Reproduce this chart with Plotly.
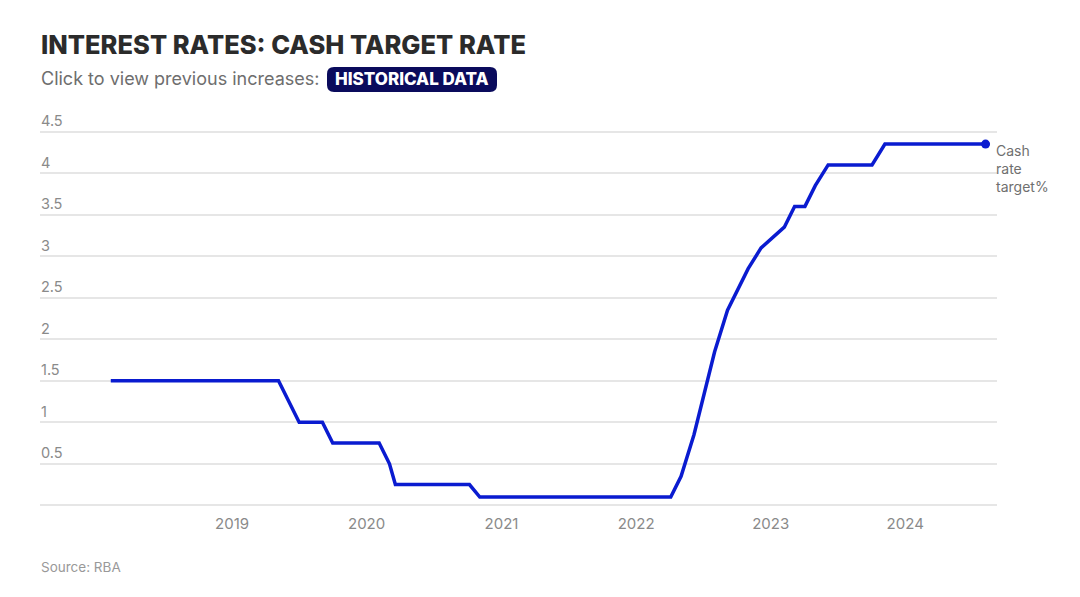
import plotly.graph_objects as go

# RBA cash rate target, by board meeting date
meeting_dates = [
    "2018-02-06", "2018-03-06", "2018-04-03", "2018-05-01", "2018-06-05", "2018-07-03",
    "2018-08-07", "2018-09-04", "2018-10-02", "2018-11-06", "2018-12-04",
    "2019-02-05", "2019-03-05", "2019-04-02", "2019-05-07", "2019-06-04", "2019-07-02",
    "2019-08-06", "2019-09-03", "2019-10-01", "2019-11-05", "2019-12-03",
    "2020-02-04", "2020-03-03", "2020-03-19", "2020-04-07", "2020-05-05", "2020-06-02",
    "2020-07-07", "2020-08-04", "2020-09-01", "2020-10-06", "2020-11-03", "2020-12-01",
    "2021-02-02", "2021-03-02", "2021-04-06", "2021-05-04", "2021-06-01", "2021-07-06",
    "2021-08-03", "2021-09-07", "2021-10-05", "2021-11-02", "2021-12-07",
    "2022-02-01", "2022-03-01", "2022-04-05", "2022-05-03", "2022-06-07", "2022-07-05",
    "2022-08-02", "2022-09-06", "2022-10-04", "2022-11-01", "2022-12-06",
    "2023-02-07", "2023-03-07", "2023-04-04", "2023-05-02", "2023-06-06", "2023-07-04",
    "2023-08-01", "2023-09-05", "2023-10-03", "2023-11-07", "2023-12-05",
    "2024-02-06", "2024-03-19", "2024-05-07", "2024-06-18", "2024-08-06",
]
cash_rate = [
    1.5, 1.5, 1.5, 1.5, 1.5, 1.5,
    1.5, 1.5, 1.5, 1.5, 1.5,
    1.5, 1.5, 1.5, 1.5, 1.25, 1.0,
    1.0, 1.0, 0.75, 0.75, 0.75,
    0.75, 0.5, 0.25, 0.25, 0.25, 0.25,
    0.25, 0.25, 0.25, 0.25, 0.1, 0.1,
    0.1, 0.1, 0.1, 0.1, 0.1, 0.1,
    0.1, 0.1, 0.1, 0.1, 0.1,
    0.1, 0.1, 0.1, 0.35, 0.85, 1.35,
    1.85, 2.35, 2.6, 2.85, 3.1,
    3.35, 3.6, 3.6, 3.85, 4.1, 4.1,
    4.1, 4.1, 4.1, 4.35, 4.35,
    4.35, 4.35, 4.35, 4.35, 4.35,
]

year_ticks = ["2019-01-01", "2020-01-01", "2021-01-01", "2022-01-01", "2023-01-01", "2024-01-01"]
year_labels = ["2019", "2020", "2021", "2022", "2023", "2024"]
y_ticks = [0, 0.5, 1, 1.5, 2, 2.5, 3, 3.5, 4, 4.5]
y_labels = ["", "0.5", "1", "1.5", "2", "2.5", "3", "3.5", "4", "4.5"]

LINE = "#0a1bd0"
NAVY = "#0a0b5c"
GRID = "#e6e6e6"
MUTED = "#8a8a8a"
FONT = "Inter"

W, H = 1080, 597
PLOT_L, PLOT_R, PLOT_T, PLOT_B = 40, 997, 130, 506.7


def px(x):
    return (x - PLOT_L) / (PLOT_R - PLOT_L)


def py(y):
    return (PLOT_B - y) / (PLOT_B - PLOT_T)


fig = go.Figure()
fig.add_trace(go.Scatter(
    x=meeting_dates, y=cash_rate,
    mode="lines", name="Cash rate target%",
    line=dict(color=LINE, width=3.5),
    hovertemplate="%{x|%d %b %Y}: %{y}%<extra></extra>",
))
fig.add_trace(go.Scatter(
    x=meeting_dates[-1:], y=cash_rate[-1:],
    mode="markers", showlegend=False, hoverinfo="skip",
    marker=dict(color=LINE, size=9),
))

# end-of-line label
fig.add_annotation(
    x=meeting_dates[-1], y=cash_rate[-1], xref="x", yref="y",
    text="Cash<br>rate<br>target%", showarrow=False,
    xanchor="left", yanchor="top", xshift=8, yshift=4, align="left",
    font=dict(family=FONT, size=14, color="#6f6f6f"),
)

# y labels sit above their gridlines, flush with the left edge
for v, lab in zip(y_ticks, y_labels):
    if lab:
        fig.add_annotation(
            x=0, y=v, xref="paper", yref="y", text=lab, showarrow=False,
            xanchor="left", yanchor="middle", yshift=11, xshift=-1,
            font=dict(family=FONT, size=14.5, color=MUTED),
        )

# title block
fig.add_annotation(
    x=px(39), y=py(45), xref="paper", yref="paper",
    text="INTEREST RATES: CASH TARGET RATE", showarrow=False,
    xanchor="left", yanchor="middle",
    font=dict(family=FONT, size=25.5, color="#2b2b2b", weight=800),
)
fig.add_annotation(
    x=px(39), y=py(79), xref="paper", yref="paper",
    text="Click to view previous increases:", showarrow=False,
    xanchor="left", yanchor="middle",
    font=dict(family=FONT, size=18, color="#6e6e6e"),
)

# rounded badge
bx0, bx1, by0, by1, r = 327, 497, 67, 92, 7
badge = (
    f"M {px(bx0 + r)},{py(by0)} L {px(bx1 - r)},{py(by0)} "
    f"Q {px(bx1)},{py(by0)} {px(bx1)},{py(by0 + r)} L {px(bx1)},{py(by1 - r)} "
    f"Q {px(bx1)},{py(by1)} {px(bx1 - r)},{py(by1)} L {px(bx0 + r)},{py(by1)} "
    f"Q {px(bx0)},{py(by1)} {px(bx0)},{py(by1 - r)} L {px(bx0)},{py(by0 + r)} "
    f"Q {px(bx0)},{py(by0)} {px(bx0 + r)},{py(by0)} Z"
)
fig.add_shape(type="path", path=badge, xref="paper", yref="paper",
              fillcolor=NAVY, line=dict(width=0), layer="above")
fig.add_annotation(
    x=px((bx0 + bx1) / 2), y=py((by0 + by1) / 2), xref="paper", yref="paper",
    text="HISTORICAL DATA", showarrow=False,
    xanchor="center", yanchor="middle",
    font=dict(family=FONT, size=17, color="white", weight=800),
)

fig.add_annotation(
    x=px(39), y=py(567), xref="paper", yref="paper",
    text="Source: RBA", showarrow=False,
    xanchor="left", yanchor="middle",
    font=dict(family=FONT, size=13.5, color="#999999"),
)

fig.update_layout(
    width=W, height=H,
    paper_bgcolor="white", plot_bgcolor="white",
    margin=dict(l=PLOT_L, r=W - PLOT_R, t=PLOT_T, b=H - PLOT_B),
    showlegend=False,
    font=dict(family=FONT, color=MUTED),
    xaxis=dict(
        range=["2017-07-29", "2024-09-06"],
        tickvals=year_ticks, ticktext=year_labels,
        showgrid=False, zeroline=False, showline=False, ticks="",
        tickfont=dict(family=FONT, size=15, color=MUTED),
        ticklabelstandoff=6,
    ),
    yaxis=dict(
        range=[-0.02, 4.52],
        tickvals=y_ticks, ticktext=y_labels,
        gridcolor=GRID, gridwidth=1.5, zeroline=False, showline=False, ticks="",
        showticklabels=False,
    ),
)

# drop the browser's default 8px body margin so the figure sits at the page origin
fig.write_html(
    "out.html",
    config={"displayModeBar": False},
    post_script="document.body.style.margin='0';",
)
